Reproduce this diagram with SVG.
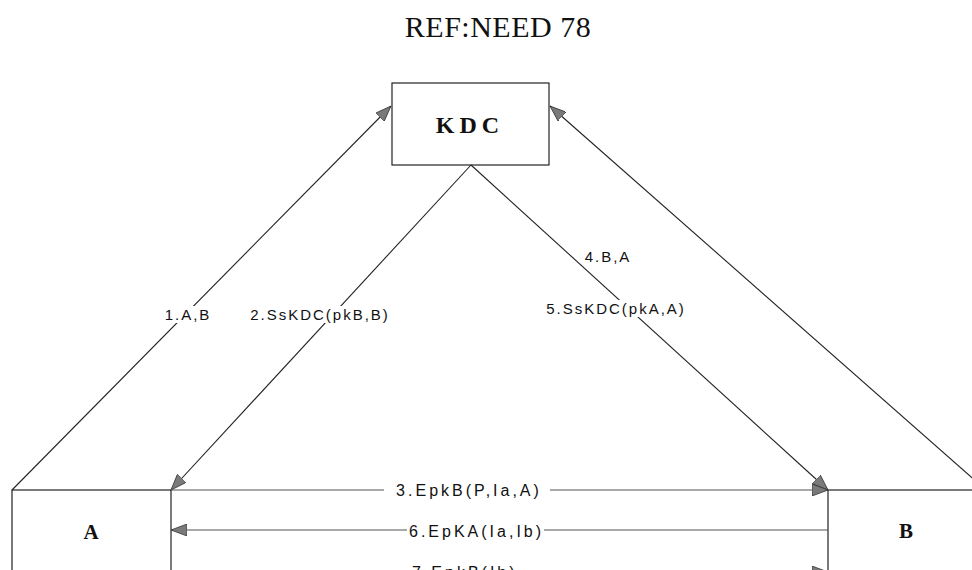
<svg xmlns="http://www.w3.org/2000/svg" width="972" height="570" viewBox="0 0 972 570">
  <style>
    .box { fill: #ffffff; stroke: #222222; stroke-width: 1.2; }
    .edge { fill: none; stroke: #222222; stroke-width: 1.1; }
    .hline { fill: none; stroke: #555555; stroke-width: 1.1; }
    .title { font-family: "Liberation Serif", serif; font-size: 30px; letter-spacing: 0.5px; fill: #111111; }
    .node-label { font-family: "Liberation Serif", serif; font-weight: bold; fill: #111111; }
    .msg { font-family: "Liberation Sans", Arial, sans-serif; font-size: 15px; letter-spacing: 2px; fill: #111111; }
    .msg-h { font-family: "Liberation Sans", Arial, sans-serif; font-size: 16px; letter-spacing: 3px; fill: #111111; }
    .msg-bg { fill: #ffffff; }
  </style>
  <defs>
    <marker id="arrow" viewBox="0 0 16 12" refX="16" refY="6" markerWidth="16" markerHeight="12" markerUnits="userSpaceOnUse" orient="auto">
      <path d="M0,0 L16,6 L0,12 z" fill="#7a7a7a" stroke="#333333" stroke-width="0.8"/>
    </marker>
  </defs>

  <rect x="0" y="0" width="972" height="570" fill="#ffffff"/>

  <text class="title" x="498" y="37" text-anchor="middle">REF:NEED 78</text>

  <!-- nodes -->
  <g id="node-kdc">
    <rect class="box" x="392" y="83" width="157" height="82"/>
    <text class="node-label" x="470" y="133" font-size="24" letter-spacing="5" text-anchor="middle">KDC</text>
  </g>
  <g id="node-a">
    <rect class="box" x="12" y="490" width="159" height="120"/>
    <text class="node-label" x="91" y="539" font-size="21" text-anchor="middle">A</text>
  </g>
  <g id="node-b">
    <rect class="box" x="828" y="490" width="158" height="120"/>
    <text class="node-label" x="906" y="538" font-size="21" text-anchor="middle">B</text>
  </g>

  <!-- connectors -->
  <g id="connectors">
    <!-- 1: A to KDC -->
    <line class="edge" x1="12" y1="490" x2="391" y2="106" marker-end="url(#arrow)"/>
    <!-- 2: KDC to A -->
    <line class="edge" x1="471" y1="165" x2="171" y2="490" marker-end="url(#arrow)"/>
    <!-- 5: KDC to B -->
    <line class="edge" x1="471" y1="165" x2="828" y2="490" marker-end="url(#arrow)"/>
    <!-- 4: B to KDC -->
    <line class="edge" x1="986" y1="490" x2="550" y2="106" marker-end="url(#arrow)"/>
    <!-- 3: A to B -->
    <line class="hline" x1="171" y1="490" x2="828" y2="490" marker-end="url(#arrow)"/>
    <!-- 6: B to A -->
    <line class="hline" x1="828" y1="530" x2="171" y2="530" marker-end="url(#arrow)"/>
    <!-- 7: A to B -->
    <line class="hline" x1="171" y1="572" x2="828" y2="572" marker-end="url(#arrow)"/>

    <!-- message labels -->
    <rect class="msg-bg" x="161" y="306" width="53" height="17"/>
    <text class="msg" x="188" y="320" text-anchor="middle">1.A,B</text>
    <rect class="msg-bg" x="251" y="306" width="138" height="17"/>
    <text class="msg" x="320" y="320" text-anchor="middle">2.SsKDC(pkB,B)</text>
    <rect class="msg-bg" x="546" y="300" width="139" height="17"/>
    <text class="msg" x="616" y="314" text-anchor="middle">5.SsKDC(pkA,A)</text>
    <text class="msg" x="608" y="262" text-anchor="middle">4.B,A</text>
    <rect class="msg-bg" x="384" y="481" width="166" height="18"/>
    <text class="msg-h" x="469" y="496" letter-spacing="4" text-anchor="middle">3.EpkB(P,Ia,A)</text>
    <rect class="msg-bg" x="407" y="521" width="137" height="18"/>
    <text class="msg-h" x="409" y="537">6.EpKA(Ia,Ib)</text>
    <rect class="msg-bg" x="410" y="562" width="108" height="18"/>
    <text class="msg-h" x="412" y="578">7.EpkB(Ib)</text>
  </g>
</svg>
